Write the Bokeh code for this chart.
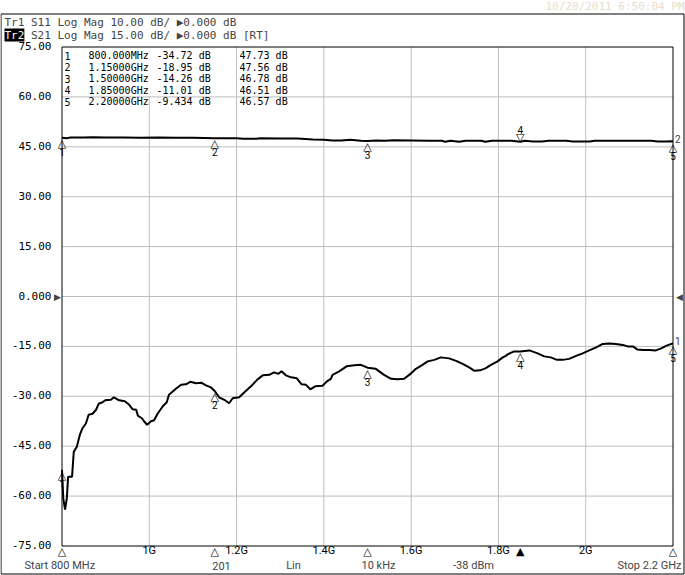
from bokeh.plotting import figure
from bokeh.models import Range1d, ColumnDataSource, LabelSet, Label
from bokeh.core.properties import value
from bokeh.embed import file_html
from bokeh.resources import INLINE

# ---------------- data ----------------
start_mhz = 800
stop_mhz = 2200

x_tick_vals = [1000, 1200, 1400, 1600, 1800, 2000]
x_tick_labels = ["1G", "1.2G", "1.4G", "1.6G", "1.8G", "2G"]
y_tick_vals = [75, 60, 45, 30, 15, 0, -15, -30, -45, -60, -75]
y_tick_labels = ["75.00", "60.00", "45.00", "30.00", "15.00", "0.000",
                 "-15.00", "-30.00", "-45.00", "-60.00", "-75.00"]

# Tr1: S11 (10 dB/div, ref 0 dB at centre)
s11_freq = [800, 803, 807, 811, 814, 823, 827, 834, 841, 847, 855, 861, 870, 878, 884,
            893, 899, 912, 919, 931, 944, 954, 962, 970, 974, 983, 988, 995, 1004, 1011,
            1019, 1031, 1040, 1045, 1057, 1061, 1073, 1084, 1094, 1107, 1120, 1130, 1141,
            1150, 1160, 1172, 1183, 1191, 1206, 1218, 1233, 1247, 1260, 1275, 1286, 1296,
            1303, 1313, 1325, 1338, 1349, 1359, 1369, 1380, 1397, 1407, 1416, 1420, 1435,
            1452, 1470, 1485, 1500, 1519, 1538, 1554, 1569, 1584, 1600, 1611, 1626, 1638,
            1653, 1668, 1687, 1703, 1718, 1733, 1745, 1758, 1770, 1785, 1798, 1810, 1817,
            1821, 1836, 1850, 1871, 1890, 1905, 1920, 1934, 1947, 1962, 1978, 1993, 2008,
            2024, 2039, 2054, 2069, 2085, 2096, 2108, 2118, 2131, 2146, 2161, 2173, 2184,
            2196, 2200]
s11_db = [-34.72, -40.5, -42.7, -40.5, -36.1, -36.1, -31.1, -30.1, -27.7, -26.4, -25.4, -23.7,
          -23.5, -22.7, -21.5, -21.2, -20.8, -20.7, -20.2, -20.8, -21.0, -21.7, -22.6, -22.7,
          -23.9, -24.4, -25.0, -25.7, -25.0, -24.8, -23.5, -22.0, -21.2, -19.7, -18.8, -18.5,
          -17.7, -17.6, -17.1, -17.4, -17.3, -17.8, -18.2, -18.95, -20.2, -20.7, -21.4, -20.4,
          -20.2, -19.2, -18.0, -16.7, -15.8, -15.7, -15.2, -15.5, -15.0, -15.8, -16.2, -16.4,
          -17.6, -17.7, -18.6, -18.0, -17.9, -17.0, -16.5, -15.7, -15.0, -14.0, -13.8, -13.7,
          -14.26, -14.5, -15.7, -16.5, -16.6, -16.5, -15.4, -14.5, -13.7, -13.0, -12.7, -12.2,
          -12.4, -12.9, -13.5, -14.2, -14.9, -14.8, -14.4, -13.6, -13.0, -12.2, -11.9, -11.6,
          -11.0, -11.01, -10.8, -11.4, -12.0, -12.2, -12.7, -12.7, -12.5, -11.9, -11.4, -10.8,
          -10.2, -9.5, -9.4, -9.5, -9.7, -10.0, -10.0, -10.6, -10.7, -10.7, -10.8, -10.4,
          -9.9, -9.5, -9.434]

# Tr2: S21 (15 dB/div, ref 0 dB at centre)
s21_freq = [800, 810, 820, 850, 870, 900, 940, 980, 1020, 1060, 1100, 1150, 1200, 1215, 1245,
            1255, 1300, 1340, 1375, 1400, 1420, 1440, 1460, 1485, 1500, 1520, 1540, 1560, 1600,
            1640, 1670, 1678, 1690, 1710, 1725, 1760, 1770, 1785, 1830, 1850, 1860, 1880, 1900,
            1915, 1955, 1970, 2010, 2020, 2100, 2150, 2165, 2185, 2195, 2200]
s21_db = [47.73, 47.6, 47.8, 47.8, 47.9, 47.8, 47.8, 47.7, 47.8, 47.7, 47.7, 47.56, 47.6, 47.4,
          47.4, 47.6, 47.5, 47.5, 47.2, 47.1, 46.9, 46.9, 47.1, 46.8, 46.78, 46.9, 46.8, 47.0,
          46.9, 46.8, 46.8, 46.5, 46.8, 46.5, 46.8, 46.8, 46.5, 46.8, 46.8, 46.51, 46.8, 46.6,
          46.6, 46.8, 46.8, 46.6, 46.6, 46.8, 46.8, 46.8, 46.6, 46.6, 46.7, 46.57]

marker_ids = ["1", "2", "3", "4", "5"]
marker_freq = [800, 1150, 1500, 1850, 2200]
marker_s11 = [-34.72, -18.95, -14.26, -11.01, -9.434]
marker_s21 = [47.73, 47.56, 46.78, 46.51, 46.57]
active_marker = 3

tr1_header = "Tr1 S11 Log Mag 10.00 dB/ \u25b60.000 dB"
tr2_name = "Tr2"
tr2_header = "S21 Log Mag 15.00 dB/ \u25b60.000 dB [RT]"
date_text = "10/20/2011 6:50:04 PM"
footer_start = "Start 800 MHz"
footer_points = "201"
footer_sweep = "Lin"
footer_ifbw = "10 kHz"
footer_power = "-38 dBm"
footer_stop = "Stop 2.2 GHz"

# ---------------- layout (pixels of the 685x575 screen) ----------------
W, H = 685, 575
PL, PR, PT, PB = 61.5, 672.5, 46.5, 545.5       # graticule edges
xs_per_px = (stop_mhz - start_mhz) / (PR - PL)
ys_per_px = 150.0 / (PB - PT)
s11_per_px = 100.0 / (PB - PT)

def X(px):
    return start_mhz + (px - PL) * xs_per_px

def Y(py):
    return 75 - (py - PT) * ys_per_px

MONO = "DejaVu Sans Mono"
NARROW = "Roboto"
SYM = "DejaVu Sans"
GRID = "#bebebe"

p = figure(width=W, height=H, output_backend="svg", toolbar_location=None,
           x_range=Range1d(X(0), X(W)), y_range=Range1d(Y(H), Y(0)),
           x_axis_type=None, y_axis_type=None, min_border=0,
           background_fill_color="white", border_fill_color="white")
p.outline_line_color = None
p.extra_y_ranges = {"s11": Range1d(-50 - (H - PB) * s11_per_px, 50 + PT * s11_per_px)}

# graticule
grid_y = [v for v in y_tick_vals if -75 < v < 75]
p.segment(x0=x_tick_vals, y0=-75, x1=x_tick_vals, y1=75, line_color=GRID, line_width=1)
p.segment(x0=start_mhz, y0=grid_y, x1=stop_mhz, y1=grid_y, line_color=GRID, line_width=1)

# white panel behind the marker table
p.quad(left=start_mhz, right=X(234), bottom=Y(95.4), top=75,
       fill_color="white", line_color=None)

p.quad(left=start_mhz, right=stop_mhz, bottom=-75, top=75,
       fill_color=None, line_color="black", line_width=1)

# outer window border
p.quad(left=X(0.5), right=X(683.5), bottom=Y(573.5), top=Y(13.5),
       fill_color=None, line_color="black", line_width=1)

# traces
p.line(s21_freq, s21_db, line_color="black", line_width=2)
p.line(s11_freq, s11_db, line_color="black", line_width=2, y_range_name="s11")

# axis tick labels
p.add_layout(LabelSet(x="x", y="y", text="t", y_offset=1,
                      source=ColumnDataSource(dict(x=[X(51)] * len(y_tick_vals), y=y_tick_vals,
                                                   t=y_tick_labels)),
                      text_align="right", text_baseline="middle",
                      text_font=value(MONO), text_font_size="11px", text_color="black"))
p.add_layout(LabelSet(x="x", y="y", text="t",
                      source=ColumnDataSource(dict(x=x_tick_vals, y=[Y(550)] * len(x_tick_vals),
                                                   t=x_tick_labels)),
                      text_align="center", text_baseline="middle",
                      text_font=value(NARROW), text_font_size="11px", text_color="black"))

# ---- markers on traces ----
idx = list(range(len(marker_ids)))
s11_src = ColumnDataSource(dict(x=marker_freq, y=marker_s11, tri=["\u25b3"] * 5, num=marker_ids))
p.add_layout(LabelSet(x="x", y="y", text="tri", source=s11_src, y_range_name="s11",
                      text_align="center", text_baseline="top", y_offset=1,
                      text_font=value(SYM), text_font_size="11px", text_color="black"))
p.add_layout(LabelSet(x="x", y="y", text="num", source=s11_src, y_range_name="s11",
                      text_align="center", text_baseline="top", y_offset=-10,
                      text_font=value(NARROW), text_font_size="10px", text_color="black"))

below = [i for i in idx if i != active_marker]
s21_src = ColumnDataSource(dict(x=[marker_freq[i] for i in below], y=[marker_s21[i] for i in below],
                                tri=["\u25b3"] * len(below), num=[marker_ids[i] for i in below]))
p.add_layout(LabelSet(x="x", y="y", text="tri", source=s21_src,
                      text_align="center", text_baseline="top", y_offset=1,
                      text_font=value(SYM), text_font_size="11px", text_color="black"))
p.add_layout(LabelSet(x="x", y="y", text="num", source=s21_src,
                      text_align="center", text_baseline="top", y_offset=-10,
                      text_font=value(NARROW), text_font_size="10px", text_color="black"))
act_src = ColumnDataSource(dict(x=[marker_freq[active_marker]], y=[marker_s21[active_marker]],
                                tri=["\u25bd"], num=[marker_ids[active_marker]]))
p.add_layout(LabelSet(x="x", y="y", text="tri", source=act_src,
                      text_align="center", text_baseline="bottom", y_offset=-2,
                      text_font=value(SYM), text_font_size="11px", text_color="black"))
p.add_layout(LabelSet(x="x", y="y", text="num", source=act_src,
                      text_align="center", text_baseline="bottom", y_offset=8,
                      text_font=value(NARROW), text_font_size="10px", text_color="black"))

# trace numbers at the right end of each trace
p.add_layout(Label(x=s21_freq[-1], y=s21_db[-1], text="2", x_offset=2, y_offset=3,
                   text_baseline="middle", text_font=NARROW, text_font_size="10px"))
p.add_layout(Label(x=s11_freq[-1], y=s11_db[-1], text="1", x_offset=2, y_offset=3,
                   y_range_name="s11", text_baseline="middle", text_font=NARROW,
                   text_font_size="10px"))

# stimulus markers on the bottom edge
ax_src = ColumnDataSource(dict(x=marker_freq, y=[-75] * 5,
                               tri=["\u25b2" if i == active_marker else "\u25b3" for i in idx]))
p.add_layout(LabelSet(x="x", y="y", text="tri", source=ax_src,
                      text_align="center", text_baseline="top", y_offset=1,
                      text_font=value(SYM), text_font_size="11px", text_color="black"))

# reference-level arrows
p.add_layout(Label(x=start_mhz, y=0, text="\u25b6", text_align="right", text_baseline="middle",
                   x_offset=-1, text_font=SYM, text_font_size="9px"))
p.add_layout(Label(x=stop_mhz, y=0, text="\u25c0", text_align="left", text_baseline="middle",
                   x_offset=3, text_font=SYM, text_font_size="9px"))

# ---- marker table ----
def fmt_freq(f):
    return "%.3fMHz" % f if f < 1000 else "%.5fGHz" % (f / 1000.0)

def fmt_db(v):
    return "%s dB" % ("%.4g" % v)

rows_py = [55, 66.5, 78, 89.5, 101]
cols_px = [64, 88, 156, 239]
tx, ty, tt = [], [], []
for i in idx:
    cells = [marker_ids[i], fmt_freq(marker_freq[i]), fmt_db(marker_s11[i]), fmt_db(marker_s21[i])]
    for c, s in zip(cols_px, cells):
        tx.append(X(c)); ty.append(Y(rows_py[i])); tt.append(s)
p.add_layout(LabelSet(x="x", y="y", text="text", source=ColumnDataSource(dict(x=tx, y=ty, text=tt)),
                      text_align="left", text_baseline="middle",
                      text_font=value(MONO), text_font_size="10px", text_color="black"))

# ---- header ----
p.add_layout(Label(x=X(4), y=Y(22), text=tr1_header, text_baseline="middle",
                   text_font=MONO, text_font_size="11px"))
p.add_layout(Label(x=X(4), y=Y(34.5), text=tr2_name, text_baseline="middle",
                   text_font=MONO, text_font_size="11px", text_color="white",
                   background_fill_color="black"))
p.add_layout(Label(x=X(30.5), y=Y(34.5), text=tr2_header, text_baseline="middle",
                   text_font=MONO, text_font_size="11px"))
p.add_layout(Label(x=X(684), y=Y(5.5), text=date_text, text_align="right",
                   text_baseline="middle", text_font=MONO, text_font_size="11px",
                   text_color="#e6dccb"))

# ---- footer ----
foot = [(footer_start, 24, "left"), (footer_points, 221, "center"), (footer_sweep, 293, "center"),
        (footer_ifbw, 378, "center"), (footer_power, 473, "center"), (footer_stop, 681, "right")]
for txt, px, al in foot:
    p.add_layout(Label(x=X(px), y=Y(565), text=txt, text_align=al, text_baseline="middle",
                       text_font=NARROW, text_font_size="11px"))

open("out.html", "w").write(file_html(p, INLINE))
